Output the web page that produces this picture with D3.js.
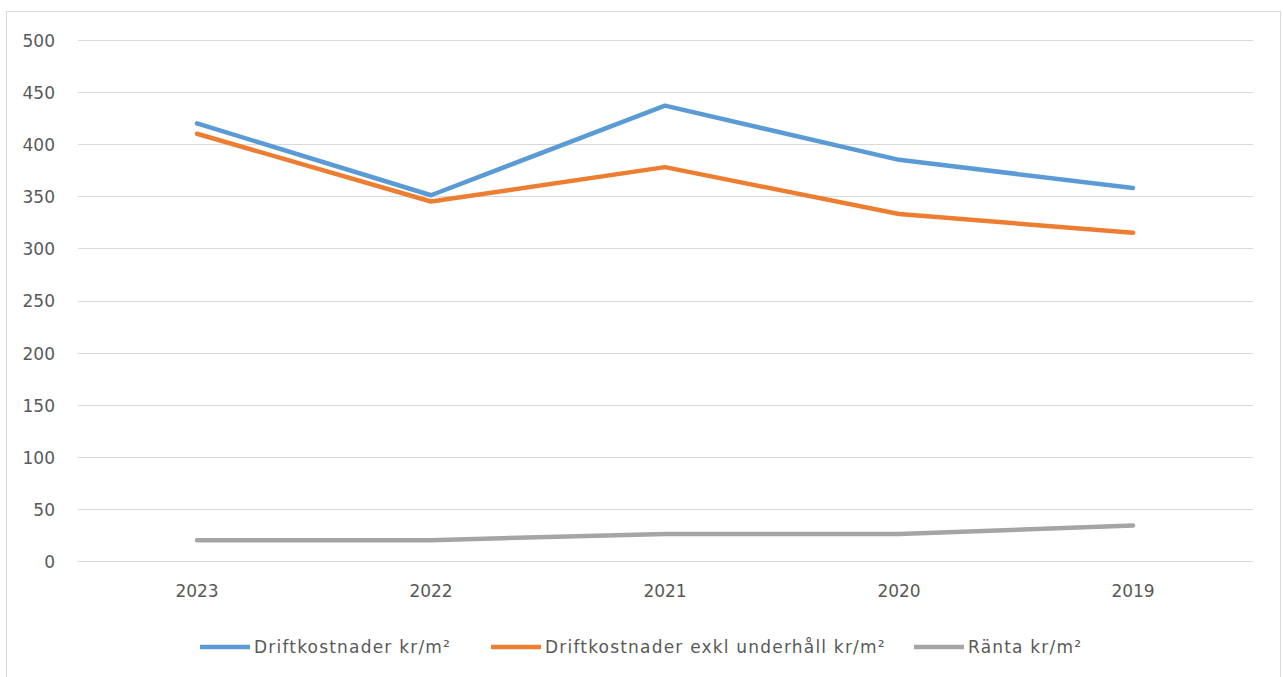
<!DOCTYPE html>
<html>
<head>
<meta charset="utf-8">
<script src="https://cdn.jsdelivr.net/npm/d3@7"></script>
<style>
  html, body { margin: 0; padding: 0; background: #fff; }
  svg { display: block; }
  text { font-family: "DejaVu Sans", "Liberation Sans", sans-serif; fill: #595959; }
</style>
</head>
<body>
<svg id="chart" width="1283" height="677"></svg>
<script>
// Years shown on the category axis
const years = ["2023", "2022", "2021", "2020", "2019"];

// Series values (kr per m²)
const driftkostnader = [420, 351, 437, 385, 358];
const driftkostnaderExkl = [410, 345, 378, 333, 315];
const ranta = [20, 20, 26, 26, 34];

const seriesNames = ["Driftkostnader kr/m²", "Driftkostnader exkl underhåll kr/m²", "Ränta kr/m²"];
const seriesColors = ["#5b9bd5", "#ed7d31", "#a5a5a5"];
const yTicks = [0, 50, 100, 150, 200, 250, 300, 350, 400, 450, 500];

const series = [driftkostnader, driftkostnaderExkl, ranta].map((vals, i) => ({
  name: seriesNames[i], color: seriesColors[i],
  points: years.map((y, j) => ({ year: y, value: vals[j] }))
}));

const FONT = "DejaVu Sans, Liberation Sans, sans-serif";
const svg = d3.select("#chart");

// Outer chart frame
svg.append("rect")
  .attr("x", 6.5).attr("y", 11.5).attr("width", 1274).attr("height", 680)
  .attr("fill", "#fff").attr("stroke", "#d9d9d9").attr("stroke-width", 1);

const plot = { left: 80, right: 1250, top: 40, bottom: 561 };

const x = d3.scaleBand().domain(years).range([plot.left, plot.right]);
const y = d3.scaleLinear().domain([0, 500]).range([plot.bottom, plot.top]);

// Horizontal gridlines
svg.append("g").selectAll("line").data(yTicks).join("line")
  .attr("x1", plot.left - 2).attr("x2", plot.right + 3)
  .attr("y1", d => Math.round(y(d)) + 0.5).attr("y2", d => Math.round(y(d)) + 0.5)
  .attr("stroke", "#d9d9d9").attr("stroke-width", 1);

// Y axis labels
const yAxis = d3.axisLeft(y).tickValues(yTicks).tickSize(0).tickPadding(0);
svg.append("g").attr("transform", `translate(55,1)`).call(yAxis)
  .call(g => g.select(".domain").remove())
  .selectAll("text")
  .attr("font-size", 17).attr("fill", "#595959")
  .attr("font-family", FONT);

// X axis labels
const xAxis = d3.axisBottom(x).tickSize(0).tickPadding(0);
svg.append("g").attr("transform", `translate(0,${plot.bottom + 24})`).call(xAxis)
  .call(g => g.select(".domain").remove())
  .selectAll("text")
  .attr("font-size", 17).attr("fill", "#595959")
  .attr("font-family", FONT);

// Series lines
const line = d3.line()
  .x(d => x(d.year) + x.bandwidth() / 2)
  .y(d => y(d.value));

svg.append("g").selectAll("path").data(series).join("path")
  .attr("d", d => line(d.points))
  .attr("fill", "none")
  .attr("stroke", d => d.color)
  .attr("stroke-width", 4.5)
  .attr("stroke-linejoin", "round")
  .attr("stroke-linecap", "round");

// Legend
const legendTextX = [254, 545, 968];
const legend = svg.append("g").selectAll("g").data(series).join("g")
  .attr("transform", (d, i) => `translate(${legendTextX[i]},647)`);
legend.append("line")
  .attr("x1", -54).attr("x2", -4).attr("y1", 0).attr("y2", 0)
  .attr("stroke", d => d.color).attr("stroke-width", 4.5);
legend.append("text")
  .attr("x", 0).attr("y", 6)
  .attr("font-size", 17)
  .attr("letter-spacing", 1.2)
  .text(d => d.name);
</script>
</body>
</html>
